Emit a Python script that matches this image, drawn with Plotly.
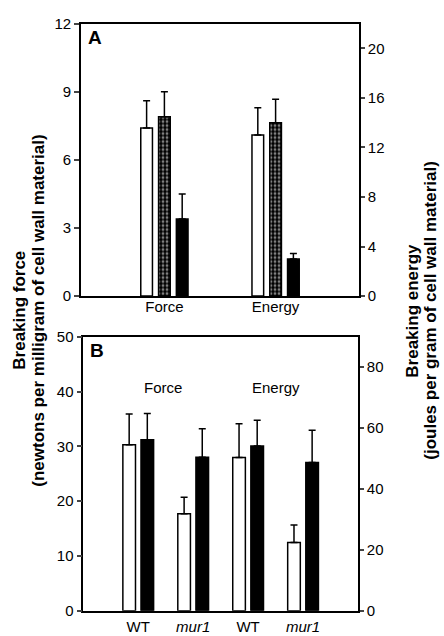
import plotly.graph_objects as go

# ---------------- data ----------------
# Panel A
a_groups = ["Force", "Energy"]
a_force_vals = [7.4, 7.9, 3.4]        # white, checkered, black (left axis)
a_force_err = [1.2, 1.1, 1.1]
a_energy_vals = [13.0, 14.0, 3.0]     # white, checkered, black (right axis)
a_energy_err = [2.2, 1.9, 0.45]

# Panel B
b_genotypes = ["WT", "<i>mur1</i>"]
b_force_white = [30.3, 17.7]
b_force_white_err = [5.6, 3.0]
b_force_black = [31.2, 28.0]
b_force_black_err = [4.8, 5.2]
b_energy_white = [50.3, 22.4]
b_energy_white_err = [11.1, 5.8]
b_energy_black = [54.1, 48.7]
b_energy_black_err = [8.5, 10.6]

a_left_ticks = [0, 3, 6, 9, 12]
a_right_ticks = [0, 4, 8, 12, 16, 20]
b_left_ticks = [0, 10, 20, 30, 40, 50]
b_right_ticks = [0, 20, 40, 60, 80]

# ---------------- styles ----------------
FONT = "Liberation Sans, Arial, Helvetica, sans-serif"
W, H = 444, 636

def px_x(p):
    return p / W

def px_y(p):
    return 1 - p / H

fig = go.Figure()

def bar(x, y, err, xaxis, yaxis, style, width):
    marker = dict(line=dict(color="black", width=1.5))
    if style == "white":
        marker["color"] = "white"
    elif style == "black":
        marker["color"] = "black"
    else:
        marker["color"] = "black"
        marker["pattern"] = dict(shape=".", fgcolor="white", bgcolor="black",
                                 size=4, solidity=0.4)
    fig.add_trace(go.Bar(
        x=x, y=y, width=width, xaxis=xaxis, yaxis=yaxis, marker=marker,
        error_y=dict(type="data", symmetric=False, array=err,
                     arrayminus=[0] * len(err), color="black",
                     thickness=1.5, width=3.5),
        showlegend=False))

# Panel A
a_styles = ["white", "check", "black"]
a_offsets = [-0.16, 0.0, 0.16]
for k, st in enumerate(a_styles):
    bar([0 + a_offsets[k]], [a_force_vals[k]], [a_force_err[k]], "x", "y", st, 0.105)
    bar([1 + a_offsets[k]], [a_energy_vals[k]], [a_energy_err[k]], "x", "y2", st, 0.105)

# Panel B
b_off = [-0.165, 0.165]
bar([i + b_off[0] for i in range(2)], b_force_white, b_force_white_err, "x2", "y3", "white", 0.23)
bar([i + b_off[1] for i in range(2)], b_force_black, b_force_black_err, "x2", "y3", "black", 0.23)
bar([2 + i + b_off[0] for i in range(2)], b_energy_white, b_energy_white_err, "x2", "y4", "white", 0.23)
bar([2 + i + b_off[1] for i in range(2)], b_energy_black, b_energy_black_err, "x2", "y4", "black", 0.23)

tickfont = dict(family=FONT, size=15, color="black")
axline = dict(showline=True, linecolor="black", linewidth=1.6, showgrid=False,
              zeroline=False)

fig.update_layout(
    width=W, height=H, margin=dict(l=0, r=0, t=0, b=0),
    paper_bgcolor="white", plot_bgcolor="white", barmode="overlay",
    font=dict(family=FONT, color="black"),
    xaxis=dict(domain=[px_x(81), px_x(359)], range=[-0.75, 1.75], anchor="y",
               tickvals=[0, 1], ticktext=a_groups, ticks="", mirror=True,
               ticklabelstandoff=-4, tickfont=tickfont, **axline),
    yaxis=dict(domain=[px_y(295), px_y(15)], range=[0, 12], anchor="x",
               tickvals=a_left_ticks, ticks="outside", ticklen=5, tickwidth=1.5,
               tickfont=tickfont, **axline),
    yaxis2=dict(range=[0, 22], overlaying="y", side="right", anchor="x",
                tickvals=a_right_ticks, ticks="outside", ticklen=4, tickwidth=1.5,
                tickfont=tickfont, **axline),
    xaxis2=dict(domain=[px_x(83.3), px_x(358)], range=[-1, 4], anchor="y3",
                tickvals=[0, 1, 2, 3], ticktext=b_genotypes * 2, ticks="",
                mirror=True, ticklabelstandoff=1, tickfont=tickfont, **axline),
    yaxis3=dict(domain=[px_y(618.3), px_y(336.7)], range=[0, 50], anchor="x2",
                tickvals=b_left_ticks, ticks="outside", ticklen=5, tickwidth=1.5,
                tickfont=tickfont, **axline),
    yaxis4=dict(range=[0, 90], overlaying="y3", side="right", anchor="x2",
                tickvals=b_right_ticks, ticks="outside", ticklen=4, tickwidth=1.5,
                tickfont=tickfont, **axline),
)

title_font = dict(family=FONT, size=17)
ann = []
ann.append(dict(text="<b>A</b>", xref="paper", yref="paper", x=px_x(86), y=px_y(16),
                xanchor="left", yanchor="top", showarrow=False,
                font=dict(family=FONT, size=19)))
ann.append(dict(text="<b>B</b>", xref="paper", yref="paper", x=px_x(88), y=px_y(338),
                xanchor="left", yanchor="top", showarrow=False,
                font=dict(family=FONT, size=19)))
ann.append(dict(text="Force", xref="x2", yref="y3", x=0.45, y=40.7,
                showarrow=False, font=dict(family=FONT, size=15)))
ann.append(dict(text="Energy", xref="x2", yref="y3", x=2.5, y=40.7,
                showarrow=False, font=dict(family=FONT, size=15)))
title_lines = [
    ("<b>Breaking force</b>", 20),
    ("<b>(newtons per milligram of cell wall material)</b>", 39),
    ("<b>Breaking energy</b>", 413),
    ("<b>(joules per gram of cell wall material)</b>", 431),
]
for txt, xp in title_lines:
    ann.append(dict(text=txt, xref="paper", yref="paper", x=px_x(xp), y=px_y(310),
                    xanchor="center", yanchor="middle", textangle=-90,
                    showarrow=False, font=title_font))
fig.update_layout(annotations=ann)

fig.write_html("out.html", config={"displayModeBar": False},
               post_script="document.body.style.margin='0';"
                           "document.body.style.overflow='hidden';")
